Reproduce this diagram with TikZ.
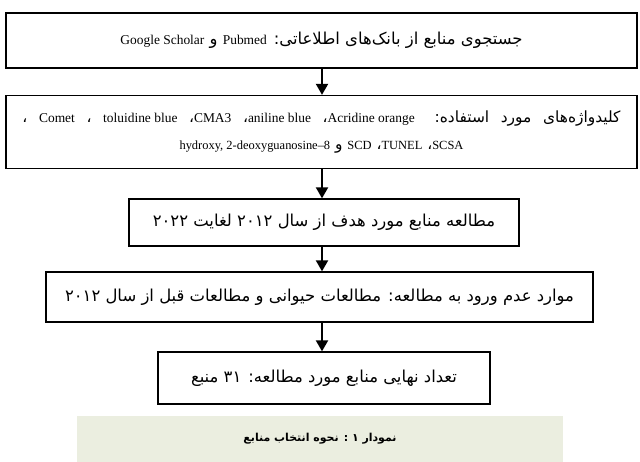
\documentclass[tikz,border=0pt]{standalone}
\usepackage{fontspec}
\setmainfont{Liberation Serif}
\newfontfamily\fa[Script=Arabic]{DejaVu Sans}
\TeXXeTstate=1
\usetikzlibrary{arrows.meta}
\newcommand\latseg[1]{\beginL\hbox{\rmfamily\fontsize{12.5}{14}\selectfont #1}\endL}
\newcommand\latsegb[1]{\beginL\hbox{\rmfamily\fontsize{13.5}{14}\selectfont #1}\endL}
\definecolor{capbg}{RGB}{235,238,224}
\begin{document}
\begin{tikzpicture}[x=1bp,y=-1bp,
  box/.style={draw=black,line width=1.3bp,inner sep=0pt,align=center,font=\fa\fontsize{16.5}{18}\selectfont},
  flow/.style={line width=2bp,-{Triangle[width=12bp,length=11bp]}}]
\useasboundingbox (0,0) rectangle (640,462);
\node[box,minimum width=631bp,minimum height=55bp] (b1) at (321.5,40.5)
  {\beginR جستجوی منابع از بانک‌های اطلاعاتی: \latsegb{Pubmed} و \latsegb{Google Scholar}\endR};
\node[box,minimum width=631bp,minimum height=73bp,font=\fa\fontsize{15.5}{28}\selectfont] (b2) at (321.5,132)
  {\hbox to 598bp{\beginR کلیدواژه‌های مورد استفاده: \latsegb{Acridine orange}، \latsegb{aniline blue}، \latsegb{CMA3}، \latsegb{toluidine blue} ، \latsegb{Comet} ،\endR}\\
   \beginR\latseg{SCSA}، \latseg{TUNEL}، \latseg{SCD} و \latseg{hydroxy, 2-deoxyguanosine–8}\endR};
\node[box,minimum width=390bp,minimum height=47bp] (b3) at (324,222.5)
  {\beginR مطالعه منابع مورد هدف از سال ۲۰۱۲ لغایت ۲۰۲۲\endR};
\node[box,minimum width=547bp,minimum height=50bp] (b4) at (319.5,297)
  {\beginR موارد عدم ورود به مطالعه: مطالعات حیوانی و مطالعات قبل از سال ۲۰۱۲\endR};
\node[box,minimum width=332bp,minimum height=52bp] (b5) at (324,378)
  {\beginR تعداد نهایی منابع مورد مطالعه: ۳۱ منبع\endR};
\node[fill=capbg,minimum width=486bp,minimum height=46bp,inner sep=0pt,font=\fa\bfseries\fontsize{11}{12}\selectfont] (cap) at (320,439)
  {\beginR نمودار ۱ : نحوه انتخاب منابع\endR};
\draw[flow] (b1.south -| 322,0) -- (b2.north -| 322,0);
\draw[flow] (b2.south -| 322,0) -- (b3.north -| 322,0);
\draw[flow] (b3.south -| 322,0) -- (b4.north -| 322,0);
\draw[flow] (b4.south -| 322,0) -- (b5.north -| 322,0);
\end{tikzpicture}
\end{document}
